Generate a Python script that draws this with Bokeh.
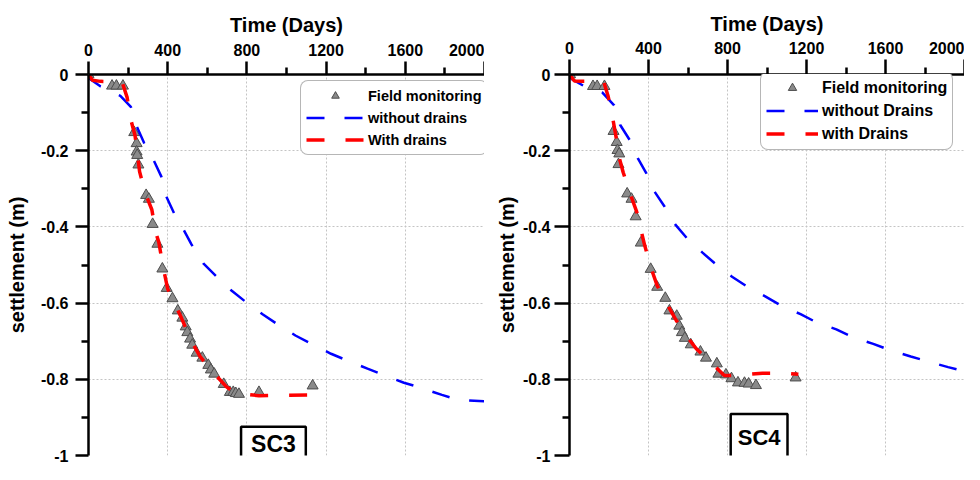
from bokeh.plotting import figure
from bokeh.models import Range1d, FixedTicker, Legend, LegendItem, Label
from bokeh.layouts import row
from bokeh.embed import file_html
from bokeh.resources import INLINE

# ---------------- data ----------------
x_ticks = [0, 400, 800, 1200, 1600, 2000]
x_minor = [200, 600, 1000, 1400, 1800]
y_ticks = [-1, -0.8, -0.6, -0.4, -0.2, 0]
y_minor = [-0.9, -0.7, -0.5, -0.3, -0.1]
y_tick_labels = {-1: "-1", -0.8: "-0.8", -0.6: "-0.6", -0.4: "-0.4", -0.2: "-0.2", 0: "0"}

# SC3
sc3_field_t = [0, 119, 141, 174, 231, 243, 243, 246, 252, 291, 305, 324, 348, 373, 395,
               424, 451, 474, 491, 499, 513, 524, 546, 575, 605, 618, 635, 683, 714,
               731, 744, 760, 861, 1132]
sc3_field_s = [0, -0.030, -0.030, -0.030, -0.152, -0.181, -0.203, -0.212, -0.237, -0.317,
               -0.327, -0.393, -0.445, -0.510, -0.561, -0.588, -0.620, -0.639, -0.662,
               -0.677, -0.694, -0.710, -0.731, -0.744, -0.763, -0.775, -0.786, -0.813,
               -0.834, -0.834, -0.837, -0.839, -0.834, -0.817]
sc3_nodrain_t = [0, 7, 60, 161, 214, 245, 281, 330, 368, 391, 432, 480, 520, 580, 646, 722,
                 797, 881, 956, 1045, 1129, 1225, 1308, 1409, 1492, 1593, 1677, 1785,
                 1869, 2000]
sc3_nodrain_s = [0, -0.012, -0.031, -0.056, -0.085, -0.138, -0.180, -0.226, -0.268, -0.318,
                 -0.364, -0.407, -0.446, -0.496, -0.530, -0.567, -0.598, -0.630, -0.656,
                 -0.685, -0.708, -0.733, -0.751, -0.772, -0.789, -0.809, -0.822, -0.841,
                 -0.854, -0.858]
sc3_drain_t = [0, 20, 60, 170, 195, 212, 235, 245, 258, 286, 320, 340, 355, 378, 400, 432,
               470, 520, 563, 630, 697, 740, 772, 861, 1000, 1130]
sc3_drain_s = [0, -0.015, -0.018, -0.020, -0.060, -0.115, -0.160, -0.200, -0.255, -0.310,
               -0.355, -0.415, -0.440, -0.508, -0.563, -0.597, -0.640, -0.700, -0.740,
               -0.782, -0.820, -0.835, -0.838, -0.843, -0.842, -0.841]

# SC4
sc4_field_t = [3, 119, 140, 177, 223, 239, 243, 252, 248, 292, 314, 335, 361, 411, 444, 485,
               506, 543, 556, 569, 584, 614, 663, 691, 746, 754, 792, 820, 853, 886, 907,
               944, 1145]
sc4_field_s = [0, -0.031, -0.031, -0.031, -0.149, -0.178, -0.199, -0.208, -0.236, -0.313,
               -0.327, -0.373, -0.442, -0.511, -0.558, -0.587, -0.620, -0.634, -0.660,
               -0.677, -0.692, -0.709, -0.728, -0.744, -0.759, -0.786, -0.788, -0.798,
               -0.809, -0.810, -0.812, -0.816, -0.796]
sc4_nodrain_t = [0, 12, 69, 168, 226, 256, 305, 347, 390, 430, 482, 536, 595, 672, 741, 823,
                 903, 993, 1076, 1170, 1252, 1351, 1439, 1538, 1625, 1728, 1813, 1917, 2000]
sc4_nodrain_s = [0, -0.012, -0.029, -0.048, -0.081, -0.132, -0.172, -0.221, -0.260, -0.307,
                 -0.347, -0.394, -0.430, -0.467, -0.498, -0.531, -0.558, -0.583, -0.608,
                 -0.629, -0.651, -0.669, -0.691, -0.707, -0.724, -0.740, -0.753, -0.768,
                 -0.779]
sc4_drain_t = [0, 25, 64, 173, 196, 218, 239, 250, 272, 303, 340, 358, 380, 411, 444, 477,
               540, 581, 642, 721, 784, 830, 886, 977, 1093, 1159]
sc4_drain_s = [0, -0.017, -0.018, -0.018, -0.058, -0.112, -0.174, -0.215, -0.257, -0.307,
               -0.360, -0.400, -0.447, -0.505, -0.554, -0.587, -0.645, -0.678, -0.720,
               -0.759, -0.790, -0.790, -0.788, -0.784, -0.784, -0.787]

FONT = "Liberation Sans"


def panel(width, height, border_left, border_top, field_t, field_s, nd_t, nd_s, d_t, d_s,
          labels, legend_xy, legend_cfg, tag, tag_xy, tag_pad, tag_font, tick_len,
          xlab_standoff, ylab_standoff, ylabel_standoff_ticks, legend_font):
    p = figure(width=width, height=height, output_backend="svg", toolbar_location=None,
               x_range=Range1d(0, 2000), y_range=Range1d(-1, 0), x_axis_location="above",
               min_border_left=border_left, min_border_right=0, min_border_top=border_top,
               min_border_bottom=9)
    p.outline_line_color = None
    p.background_fill_color = "white"
    p.border_fill_color = "white"

    xa = p.xaxis[0]
    xa.ticker = FixedTicker(ticks=x_ticks, minor_ticks=x_minor)
    xa.axis_label = "Time (Days)"
    ya = p.yaxis[0]
    ya.ticker = FixedTicker(ticks=y_ticks, minor_ticks=y_minor)
    ya.major_label_overrides = y_tick_labels
    ya.axis_label = "settlement (m)"
    for ax in (xa, ya):
        ax.axis_line_width = 2.5
        ax.axis_line_color = "black"
        ax.major_tick_line_width = 2.5
        ax.minor_tick_line_width = 2.5
        ax.major_tick_out = tick_len
        ax.major_tick_in = 0
        ax.minor_tick_out = 7
        ax.minor_tick_in = 0
        ax.major_label_text_font = FONT
        ax.major_label_text_font_style = "bold"
        ax.major_label_text_font_size = "16px"
        ax.major_label_text_color = "black"
        ax.axis_label_text_font = FONT
        ax.axis_label_text_font_style = "bold"
        ax.axis_label_text_font_size = "20px"
        ax.axis_label_text_color = "black"
    xa.major_label_standoff = 6
    xa.axis_label_standoff = xlab_standoff
    ya.major_label_standoff = ylabel_standoff_ticks
    ya.axis_label_standoff = ylab_standoff

    for g in (p.xgrid[0], p.ygrid[0]):
        g.grid_line_color = "#c4c4c4"
        g.grid_line_dash = "2 2"
        g.grid_line_width = 1
    p.xgrid[0].ticker = FixedTicker(ticks=x_ticks)
    p.ygrid[0].ticker = FixedTicker(ticks=y_ticks)

    r_field = p.scatter(field_t, field_s, marker="triangle", size=11,
                        fill_color="#8a8a8a", line_color="#4d4d4d", line_width=1)
    r_nd = p.line(nd_t, nd_s, line_color="#0000ff", line_width=2.5, line_dash="18 20")
    r_d = p.line(d_t, d_s, line_color="#ff0000", line_width=3.5, line_dash="18 21")

    legend = Legend(items=[LegendItem(label=labels[0], renderers=[r_field]),
                           LegendItem(label=labels[1], renderers=[r_nd]),
                           LegendItem(label=labels[2], renderers=[r_d])],
                    location=legend_xy)
    legend.label_text_font = FONT
    legend.label_text_font_style = "bold"
    legend.label_text_font_size = legend_font
    legend.label_text_color = "black"
    legend.border_line_color = "#6e6e6e"
    legend.border_line_width = 1
    legend.background_fill_color = "white"
    legend.background_fill_alpha = 1
    legend.glyph_width = legend_cfg["gw"]
    legend.glyph_height = legend_cfg["gh"]
    legend.label_height = legend_cfg["gh"]
    legend.spacing = legend_cfg["sp"]
    legend.padding = 5
    legend.margin = 0
    legend.label_standoff = legend_cfg["ls"]
    if "border_radius" in Legend.properties():
        legend.border_radius = 8
    p.add_layout(legend)

    lab = Label(x=tag_xy[0], y=tag_xy[1], text=tag, text_font=FONT, text_font_style="bold",
                text_font_size=tag_font, text_align="center", text_baseline="middle",
                text_color="black", border_line_color="black", border_line_width=2.5,
                background_fill_color="white")
    if "padding" in Label.properties():
        lab.padding = tag_pad
    p.add_layout(lab)
    return p


H = 464
left = panel(484, H, 88, 74, sc3_field_t, sc3_field_s, sc3_nodrain_t, sc3_nodrain_s,
             sc3_drain_t, sc3_drain_s,
             ["Field monitoring", "without drains", "With drains"],
             (212, 300), {"gw": 58, "gh": 19, "sp": 3, "ls": 4}, "SC3", (934, -0.969),
             (10, 4), "23px", 13, 5, 10, 7, "14.5px")
right = panel(480, H, 85, 74, sc4_field_t, sc4_field_s, sc4_nodrain_t, sc4_nodrain_s,
              sc4_drain_t, sc4_drain_s,
              ["Field monitoring", "without Drains", "with Drains"],
              (191, 305), {"gw": 52, "gh": 21, "sp": 2, "ls": 4}, "SC4", (960, -0.953),
              (7, 11), "22px", 15, 4, 2, 4, "16px")

layout = row(left, right)
open("out.html", "w").write(file_html(layout, INLINE))
